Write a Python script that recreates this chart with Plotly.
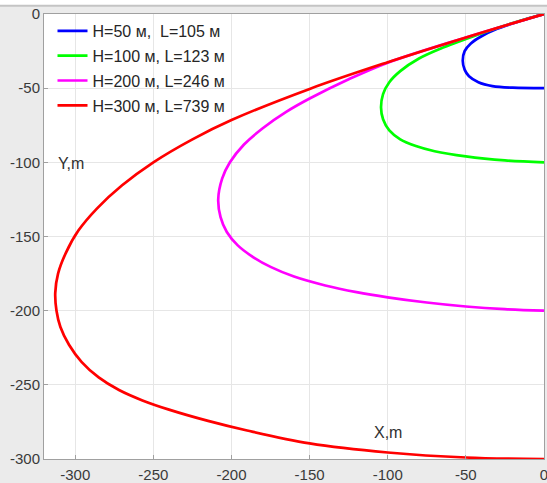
import plotly.graph_objects as go

# Trajectories (metres): X along the horizontal axis, Y downward
labels = ["H=50 м,  L=105 м", "H=100 м, L=123 м", "H=200 м, L=246 м", "H=300 м, L=739 м"]
colors = ["#0000ff", "#00ff00", "#ff00ff", "#ff0000"]

x_h50 = [0, -15, -30, -40, -47, -50.8, -52, -50.8, -48, -42, -33, -20, 0]
y_h50 = [0, -4.6, -10, -15, -20, -25, -31.5, -37.5, -42, -46, -48.6, -49.7, -50]

x_h100 = [0, -25, -50, -65, -80, -92, -99, -103, -104.3,
          -103, -99, -92, -82, -70, -50, -25, 0]
y_h100 = [0, -7.7, -16.8, -22.8, -30, -38.5, -46, -54, -63,
          -71, -78.5, -84.5, -89, -92.5, -96, -98.7, -100]

x_h200 = [0, -50, -100, -125, -150, -165, -180, -192, -201, -206, -208.5,
          -207, -203, -196, -186, -175, -160, -140, -120, -100, -75, -50, -25, 0]
y_h200 = [0, -15.8, -32.8, -44, -57, -66, -77, -88, -100, -111, -125,
          -137, -147, -156, -164, -170.5, -177, -183, -187.5, -191, -194.5, -197.2, -199, -200]

x_h300 = [0, -50, -100, -150, -200, -225, -250, -270, -286, -298, -306, -311, -312.8,
          -312, -309.5, -304, -296, -285, -272, -257, -240, -215, -190, -150, -100, -50, 0]
y_h300 = [0, -15.8, -32.5, -50.5, -71.5, -84.5, -100, -115.5, -131, -146, -161, -175, -188,
          -200, -211, -223, -234.5, -245, -253.5, -260.5, -266.7, -274.3, -280.8, -289.5, -295.6, -299, -300]

series_x = [x_h50, x_h100, x_h200, x_h300]
series_y = [y_h50, y_h100, y_h200, y_h300]

tick_vals = [-300, -250, -200, -150, -100, -50, 0]
tick_text = ["-300", "-250", "-200", "-150", "-100", "-50", "0"]

fig = go.Figure()
for name, xs, ys, col in zip(labels, series_x, series_y, colors):
    fig.add_trace(go.Scatter(
        x=xs, y=ys, mode="lines", name=name, legendgroup=name,
        line=dict(color=col, width=2.7, shape="spline", smoothing=1.0),
    ))

axis_common = dict(
    showgrid=True, gridcolor="#e6e6e6", gridwidth=1,
    zeroline=False, showline=True, linecolor="#a0a0a0", linewidth=1,
    mirror=True, ticks="inside", ticklen=4, tickcolor="#a0a0a0",
    tickvals=tick_vals, ticktext=tick_text, ticklabeloverflow="allow",
    automargin=False,
    tickfont=dict(family="Liberation Sans, Arial", size=15, color="#3a3a3a"),
)

fig.update_layout(
    width=547, height=483, autosize=False,
    margin=dict(l=44, r=3, t=14, b=24),
    paper_bgcolor="#ebebeb", plot_bgcolor="#ffffff",
    xaxis=dict(range=[-320, 0], ticklabelstandoff=2, **axis_common),
    yaxis=dict(range=[-300, 0], **axis_common),
    showlegend=True,
    legend=dict(
        x=0.017, y=1.0, xanchor="left", yanchor="top",
        bgcolor="rgba(0,0,0,0)", borderwidth=0,
        font=dict(family="Liberation Sans, Arial", size=16, color="#262626"),
        tracegroupgap=1,
    ),
    font=dict(family="Liberation Sans, Arial"),
)

# axis names placed inside the plotting area
fig.add_annotation(x=-303, y=-101, text="Y,m", showarrow=False,
                   font=dict(size=16, color="#303030"), xref="x", yref="y")
fig.add_annotation(x=-100, y=-282, text="X,m", showarrow=False,
                   font=dict(size=16, color="#303030"), xref="x", yref="y")

# window frame strip along the top edge
fig.add_shape(type="rect", xref="paper", yref="paper", x0=-0.1, x1=1.1,
              y0=1.0202, y1=1.06, fillcolor="#ffffff", line=dict(width=0), layer="below")
fig.add_shape(type="line", xref="paper", yref="paper", x0=-0.1, x1=1.1,
              y0=1.0185, y1=1.0185, line=dict(color="#c4c4c4", width=2))

fig.write_html("out.html")
